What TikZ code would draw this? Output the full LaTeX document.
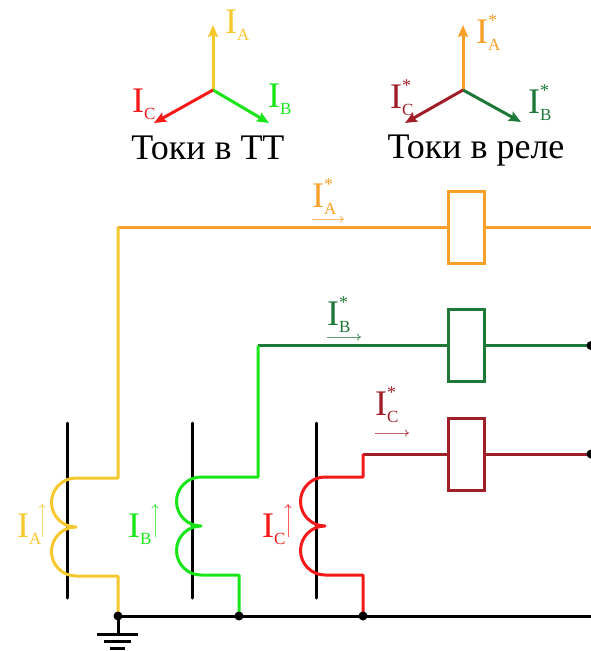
\documentclass[tikz,border=0pt]{standalone}
\usepackage{fontspec}
\setmainfont{Liberation Serif}
\usetikzlibrary{arrows.meta}
\definecolor{cA}{RGB}{247,200,45}
\definecolor{cB}{RGB}{25,230,25}
\definecolor{cC}{RGB}{245,25,25}
\definecolor{rA}{RGB}{247,160,40}
\definecolor{rB}{RGB}{30,120,55}
\definecolor{rC}{RGB}{160,30,40}
\newcommand\Isb[1]{I\raisebox{-0.2em}{\fontsize{17}{17}\selectfont #1}}
\newcommand\Ist[1]{I\makebox[0pt][l]{\raisebox{0.45em}{\fontsize{18}{18}\selectfont *}}\raisebox{-0.2em}{\fontsize{17}{17}\selectfont #1}}
\tikzset{
  lbl/.style={inner sep=0pt, anchor=base west, font=\fontsize{36}{40}\selectfont},
  ttl/.style={inner sep=0pt, anchor=base, font=\fontsize{36}{40}\selectfont},
  wire/.style={line width=3pt},
  bar/.style={line width=3pt, black, line cap=round},
  phasor/.style={line width=3pt, -{Stealth[length=12pt,width=10pt,inset=2pt]}},
  small/.style={line width=1pt, opacity=0.7, -{To[length=4pt,width=7pt]}},
  relay/.style={draw, rectangle, minimum width=36pt, minimum height=72pt, line width=3pt, inner sep=0pt, fill=white},
  dot/.style={circle, fill=black, inner sep=0pt, minimum size=9pt}
}
\begin{document}
\begin{tikzpicture}[x=1pt,y=-1pt]
\useasboundingbox (0,0) rectangle (591,651);

% ---- phasors (CT currents)
\coordinate (o1) at (213,90);
\coordinate (o1a) at (213,25);
\coordinate (o1b) at (269,123);
\coordinate (o1c) at (154,123);
\draw[phasor, cA] (o1) -- (o1a);
\draw[phasor, cB] (o1) -- (o1b);
\draw[phasor, cC] (o1) -- (o1c);
\node[lbl, text=cA] (t1a) at (225,33) {\Isb{A}};
\node[lbl, text=cB] (t1b) at (268,107) {\Isb{B}};
\node[lbl, text=cC] (t1c) at (132,112) {\Isb{C}};
\node[ttl] (title1) at (208,159) {Токи в ТТ};

% ---- phasors (relay currents)
\coordinate (o2) at (463,90);
\coordinate (o2a) at (463,25);
\coordinate (o2b) at (521,122);
\coordinate (o2c) at (405,123);
\draw[phasor, rA] (o2) -- (o2a);
\draw[phasor, rB] (o2) -- (o2b);
\draw[phasor, rC] (o2) -- (o2c);
\node[lbl, text=rA] (t2a) at (476,43) {\Ist{A}};
\node[lbl, text=rB] (t2b) at (528,113) {\Ist{B}};
\node[lbl, text=rC] (t2c) at (390,108) {\Ist{C}};
\node[ttl] (title2) at (476,158) {Токи в реле};

% ---- relays
\node[relay, draw=rA] (ra) at (466,227) {};
\node[relay, draw=rB] (rb) at (466,345.5) {};
\node[relay, draw=rC] (rc) at (466.5,454) {};

% ---- CT bars
\coordinate (ba1) at (67,423);  \coordinate (ba2) at (67,598);
\coordinate (bb1) at (192,423); \coordinate (bb2) at (192,598);
\coordinate (bc1) at (316,423); \coordinate (bc2) at (316,598);
\draw[bar] (ba1) -- (ba2);
\draw[bar] (bb1) -- (bb2);
\draw[bar] (bc1) -- (bc2);

% ---- corner points
\coordinate (ka) at (118,227);
\coordinate (kb) at (258,345.5);
\coordinate (kc) at (363,454);
\coordinate (ea) at (591,227);
\coordinate (eb) at (591,345.5);
\coordinate (ec) at (591,454);

% ---- relay side wires
\draw[wire, rA] (ka) -- (ra.west);
\draw[wire, rA] (ra.east) -- (ea);
\draw[wire, rB] (kb) -- (rb.west);
\draw[wire, rB] (rb.east) -- (eb);
\draw[wire, rC] (kc) -- (rc.west);
\draw[wire, rC] (rc.east) -- (ec);
\node[dot] (db) at (eb) {};
\node[dot] (dc) at (ec) {};

% ---- ground bus
\coordinate (ga) at (118,616);
\coordinate (gb) at (239,616);
\coordinate (gc) at (363,616);
\coordinate (gend) at (591,616);
\draw[wire, black] (ga) -- (gend);

% ---- CT A winding
\draw[wire, cA, line join=round] (ka) -- (118,478) -- (76,478)
  arc[start angle=270, end angle=90, radius=24.5]
  arc[start angle=270, end angle=90, radius=24.5]
  -- (118,576) -- (ga);
% ---- CT B winding
\draw[wire, cB, line join=round] (kb) -- (258,477) -- (201,477)
  arc[start angle=270, end angle=90, radius=24.5]
  arc[start angle=270, end angle=90, radius=24.5]
  -- (239,575) -- (gb);
% ---- CT C winding
\draw[wire, cC, line join=round] (kc) -- (363,477) -- (325,477)
  arc[start angle=270, end angle=90, radius=24.5]
  arc[start angle=270, end angle=90, radius=24.5]
  -- (363,575) -- (gc);

\node[dot] (nga) at (ga) {};
\node[dot] (ngb) at (gb) {};
\node[dot] (ngc) at (gc) {};

% ---- earth symbol
\coordinate (e0) at (118,634);
\coordinate (e1l) at (97,634);  \coordinate (e1r) at (138,634);
\coordinate (e2l) at (104,641); \coordinate (e2r) at (131,641);
\coordinate (e3l) at (110,648); \coordinate (e3r) at (125,648);
\draw[wire, black] (ga) -- (e0);
\draw[wire, black] (e1l) -- (e1r);
\draw[wire, black] (e2l) -- (e2r);
\draw[wire, black] (e3l) -- (e3r);

% ---- wire labels (relay currents)
\node[lbl, text=rA] (wa) at (312,207) {\Ist{A}};
\node[lbl, text=rB] (wb) at (327,325) {\Ist{B}};
\node[lbl, text=rC] (wc) at (375,415) {\Ist{C}};
\coordinate (wa1) at (312,219); \coordinate (wa2) at (344,219);
\coordinate (wb1) at (327,337); \coordinate (wb2) at (361,337);
\coordinate (wc1) at (375,433); \coordinate (wc2) at (409,433);
\draw[small, rA] (wa1) -- (wa2);
\draw[small, rB] (wb1) -- (wb2);
\draw[small, rC] (wc1) -- (wc2);

% ---- CT labels
\node[lbl, text=cA] (ia) at (17,537) {\Isb{A}};
\node[lbl, text=cB] (ib) at (128,537) {\Isb{B}};
\node[lbl, text=cC] (ic) at (262,537) {\Isb{C}};
\coordinate (ia1) at (42,537);  \coordinate (ia2) at (42,504);
\coordinate (ib1) at (155,537); \coordinate (ib2) at (155,504);
\coordinate (ic1) at (288,537); \coordinate (ic2) at (288,504);
\draw[small, cA] (ia1) -- (ia2);
\draw[small, cB] (ib1) -- (ib2);
\draw[small, cC] (ic1) -- (ic2);
\end{tikzpicture}
\end{document}
